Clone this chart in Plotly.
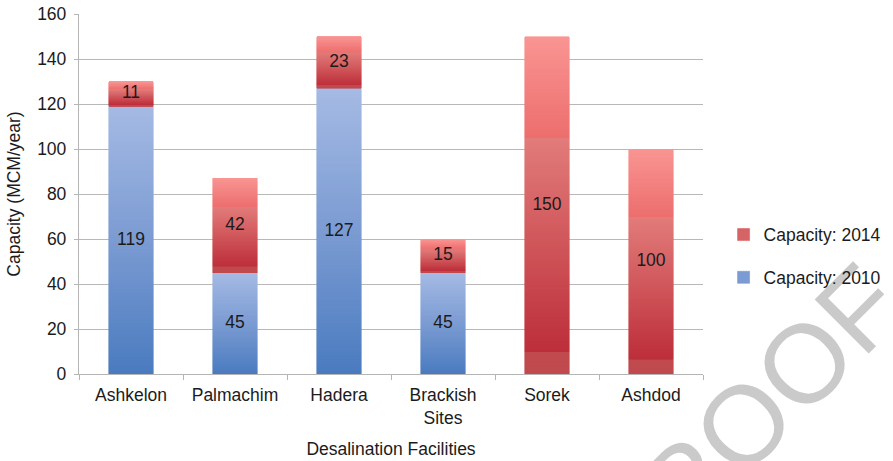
import plotly.graph_objects as go

# Desalination capacity per facility (MCM/year)
facilities = ["Ashkelon", "Palmachim", "Hadera", "Brackish<br>Sites", "Sorek", "Ashdod"]
cap_2010 = [119, 45, 127, 45, 0, 0]
cap_2014 = [11, 42, 23, 15, 150, 100]
y_ticks = [0, 20, 40, 60, 80, 100, 120, 140, 160]

FONT = "Liberation Sans"
TXT = "#1b1b1b"
N_SLICES = 120  # thin stacked slices used to paint a vertical gradient in each bar

# gradient stops: position from the top of a bar (0) to its bottom (1)
BLUE_STOPS = [(0.0, "#A5BAE4"), (0.5, "#7B9BD2"), (1.0, "#4A7BBF")]
RED_STOPS = [(0.0, "#F99593"), (0.30, "#EC6E6D"), (0.3001, "#E27C7A"),
             (0.93, "#BD2F3A"), (0.9301, "#C04A4E"), (1.0, "#C04A4E")]


def hex_rgb(h):
    h = h.lstrip("#")
    return tuple(int(h[i:i + 2], 16) for i in (0, 2, 4))


def grad(stops, t):
    for (t0, c0), (t1, c1) in zip(stops[:-1], stops[1:]):
        if t0 <= t <= t1:
            f = 0 if t1 == t0 else (t - t0) / (t1 - t0)
            a, b = hex_rgb(c0), hex_rgb(c1)
            return "rgb(%d,%d,%d)" % tuple(round(a[i] + (b[i] - a[i]) * f) for i in range(3))
    return stops[-1][1]


fig = go.Figure()


def add_series(values, stops, name, group, rank):
    # stack slices bottom-up; each slice is 1/N of the bar's own value
    for k in range(N_SLICES - 1, -1, -1):
        t = (k + 0.5) / N_SLICES
        col = grad(stops, t)
        fig.add_trace(go.Bar(
            x=facilities,
            y=[v / N_SLICES if v else None for v in values],
            marker=dict(color=col, line=dict(color=col, width=0.6)),
            width=0.43,
            name=name,
            legendgroup=group,
            legendrank=rank,
            showlegend=(k == N_SLICES // 2),
            hoverinfo="skip",
        ))


add_series(cap_2010, BLUE_STOPS, "Capacity: 2010", "g2010", 2)
add_series(cap_2014, RED_STOPS, "Capacity: 2014", "g2014", 1)

# value labels at the middle of each segment
lab_x, lab_y, lab_t = [], [], []
for f, a, b in zip(facilities, cap_2010, cap_2014):
    if a:
        lab_x.append(f); lab_y.append(a / 2); lab_t.append(str(a))
    if b:
        lab_x.append(f); lab_y.append(a + b / 2); lab_t.append(str(b))
fig.add_trace(go.Scatter(
    x=lab_x, y=lab_y, text=lab_t, mode="text",
    textfont=dict(family=FONT, size=17.5, color=TXT),
    showlegend=False, hoverinfo="skip",
))

# diagonal watermark, kept beneath the legend text
wm_x = (736 - 79) / 624
wm_y = (374 - 417) / 360
fig.add_shape(
    type="rect", xref="paper", yref="paper",
    x0=wm_x - 0.02, x1=wm_x + 0.02, y0=wm_y - 0.02, y1=wm_y + 0.02,
    line=dict(width=0), fillcolor="rgba(0,0,0,0)", layer="below",
    label=dict(text="PROOF", textangle=-45, textposition="middle center",
               font=dict(family=FONT, size=111, color="#CACACA")),
)

fig.update_layout(
    width=893, height=461,
    margin=dict(l=79, r=190, t=14, b=87, autoexpand=False),
    paper_bgcolor="white", plot_bgcolor="white",
    barmode="stack", bargap=0.57,
    font=dict(family=FONT, size=17.5, color=TXT),
    showlegend=True,
    legend=dict(
        x=1.033, xanchor="left", y=0.437, yanchor="top",
        traceorder="grouped", tracegroupgap=17,
        font=dict(family=FONT, size=17.5, color=TXT),
        bgcolor="rgba(0,0,0,0)",
    ),
    xaxis=dict(
        type="category", automargin=False,
        showline=True, linecolor="#B5B5B5", linewidth=1.3,
        ticks="outside", tickson="boundaries", ticklen=5, tickcolor="#B5B5B5",
        ticklabelstandoff=5,
        showgrid=False,
        tickfont=dict(family=FONT, size=17.5, color=TXT),
        title=dict(text="Desalination Facilities", standoff=15,
                   font=dict(family=FONT, size=17.5, color=TXT)),
    ),
    yaxis=dict(
        range=[0, 160], tickvals=y_ticks, automargin=False,
        showline=True, linecolor="#B5B5B5", linewidth=1.3,
        ticks="outside", ticklen=4, tickcolor="#B5B5B5",
        ticklabelstandoff=4,
        showgrid=True, gridcolor="#B8B8B8", gridwidth=1.3,
        zeroline=False,
        tickfont=dict(family=FONT, size=17.5, color=TXT),
        title=dict(text="Capacity (MCM/year)", standoff=12,
                   font=dict(family=FONT, size=17.5, color=TXT)),
    ),
)

fig.write_html("out.html")
